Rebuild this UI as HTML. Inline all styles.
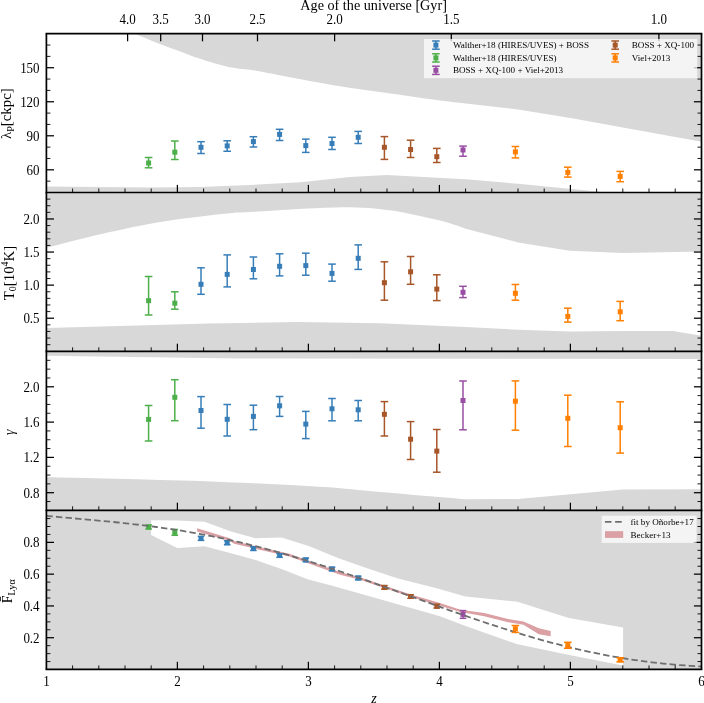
<!DOCTYPE html><html><head><meta charset="utf-8"><style>html,body{margin:0;padding:0;background:#fff;}svg{display:block;will-change:transform;}</style></head><body><svg width="704" height="703" viewBox="0 0 704 703" font-family='"Liberation Serif", serif' fill="#000" stroke-linecap="butt">
<polygon points="134.80,33.70 134.80,33.70 136.64,34.47 139.09,35.51 142.02,36.75 145.27,38.11 148.68,39.54 152.11,40.96 155.40,42.30 158.40,43.50 161.17,44.57 163.89,45.59 166.56,46.57 169.19,47.52 171.81,48.46 174.43,49.40 177.05,50.34 179.70,51.30 182.31,52.27 184.84,53.24 187.35,54.21 189.87,55.18 192.45,56.15 195.13,57.13 197.97,58.11 201.00,59.10 204.28,60.13 207.80,61.21 211.49,62.32 215.27,63.43 219.08,64.49 222.85,65.50 226.51,66.41 230.00,67.20 233.23,67.82 236.24,68.29 239.12,68.66 241.97,68.96 244.89,69.26 247.96,69.60 251.30,70.03 255.00,70.60 259.02,71.30 263.26,72.08 267.71,72.93 272.34,73.82 277.16,74.77 282.13,75.73 287.25,76.72 292.50,77.70 297.94,78.71 303.61,79.78 309.47,80.88 315.47,82.00 321.56,83.12 327.71,84.22 333.87,85.29 340.00,86.30 346.13,87.26 352.32,88.18 358.57,89.07 364.84,89.94 371.14,90.80 377.44,91.66 383.73,92.52 390.00,93.40 396.42,94.32 403.07,95.27 409.82,96.24 416.53,97.21 423.04,98.14 429.22,99.01 434.92,99.81 440.00,100.50 444.54,101.09 448.72,101.61 452.51,102.06 455.93,102.44 458.95,102.77 461.57,103.06 463.79,103.30 465.60,103.50 518.00,109.50 570.50,118.10 622.90,127.50 701.50,141.70 701.50,33.70" fill="#d8d8d8" />
<polygon points="46.40,186.40 151.00,187.60 200.00,187.00 250.00,185.00 300.00,182.20 350.00,177.00 387.00,175.00 465.60,179.20 518.00,183.80 622.90,194.00 622.90,192.50 46.40,192.50" fill="#d8d8d8" />
<polygon points="46.40,192.50 46.40,247.80 50.68,246.71 56.33,245.24 63.05,243.49 70.54,241.56 78.53,239.52 86.71,237.48 94.80,235.53 102.50,233.75 110.01,232.08 117.68,230.41 125.47,228.74 133.35,227.11 141.28,225.53 149.22,224.01 157.14,222.58 165.00,221.25 173.09,220.00 181.56,218.81 190.20,217.68 198.75,216.63 206.99,215.67 214.69,214.80 221.60,214.04 227.50,213.40 231.80,212.94 234.48,212.67 236.14,212.54 237.37,212.50 238.77,212.48 240.95,212.42 244.49,212.28 250.00,212.00 257.82,211.53 267.54,210.91 278.59,210.20 290.43,209.46 302.50,208.75 314.26,208.13 325.14,207.66 334.60,207.40 342.69,207.32 349.95,207.33 356.58,207.46 362.78,207.69 368.72,208.05 374.61,208.53 380.64,209.15 387.00,209.90 393.78,210.86 400.85,212.06 408.04,213.43 415.18,214.90 422.11,216.42 428.66,217.92 434.68,219.33 440.00,220.60 444.69,221.79 448.93,223.00 452.73,224.18 456.11,225.32 459.08,226.37 461.64,227.31 463.81,228.09 465.60,228.70 518.20,242.50 569.70,250.80 622.90,253.10 701.50,251.50 701.50,192.50" fill="#d8d8d8" />
<polygon points="46.40,327.90 209.00,323.50 296.00,322.00 380.00,323.30 465.60,327.00 518.00,329.70 570.50,331.60 622.90,331.10 673.00,331.10 701.50,335.70 701.50,351.30 46.40,351.30" fill="#d8d8d8" />
<polygon points="46.40,351.30 46.40,355.80 240.00,358.60 701.50,359.00 701.50,351.30" fill="#d8d8d8" />
<polygon points="46.40,477.10 58.48,477.40 74.80,477.78 94.26,478.24 115.74,478.75 138.16,479.31 160.41,479.89 181.39,480.50 200.00,481.10 216.95,481.73 233.61,482.39 249.82,483.10 265.46,483.82 280.36,484.55 294.40,485.28 307.43,486.00 319.30,486.70 329.52,487.36 338.01,488.00 345.26,488.63 351.76,489.25 357.99,489.89 364.45,490.55 371.62,491.25 380.00,492.00 390.09,492.86 401.66,493.84 414.04,494.88 426.59,495.93 438.68,496.94 449.64,497.86 458.83,498.63 465.60,499.20 518.00,499.00 622.80,489.50 701.50,489.20 701.50,510.30 46.40,510.30" fill="#d8d8d8" />
<rect x="46.4" y="510.3" width="655.1" height="159.1" fill="#d8d8d8"/>
<polygon points="151.10,520.30 177.40,520.40 204.50,521.80 231.00,531.50 255.50,538.30 281.50,537.40 308.60,546.00 338.60,558.30 365.60,567.80 398.00,578.60 435.70,588.00 465.40,596.60 517.50,601.80 568.80,618.00 623.10,627.40 623.10,665.40 570.50,655.20 517.60,644.30 465.60,626.00 440.00,616.20 380.00,599.20 330.50,585.30 308.40,579.40 281.50,569.00 255.50,560.00 231.00,553.20 204.50,546.25 177.30,548.00 151.10,534.90" fill="#ffffff" />
<polygon points="197.10,528.20 229.80,538.20 234.00,541.10 289.40,553.80 340.00,571.90 360.00,577.20 410.00,594.20 440.00,603.10 460.40,609.70 484.30,612.90 508.10,618.90 523.50,621.40 538.80,628.20 550.70,631.10 550.70,636.20 538.80,634.20 523.50,624.80 508.10,622.30 484.30,616.30 460.40,612.00 440.00,605.80 410.00,596.80 360.00,579.80 340.00,574.70 289.40,556.50 234.00,543.80 229.80,541.10 197.10,531.40" fill="#daa0a3" />
<g stroke="#4daf4a" stroke-width="1.50" fill="none"><line x1="148.60" y1="157.50" x2="148.60" y2="167.80"/><line x1="144.80" y1="157.50" x2="152.40" y2="157.50"/><line x1="144.80" y1="167.80" x2="152.40" y2="167.80"/></g><rect x="146.10" y="160.50" width="5.00" height="5.00" fill="#4daf4a"/>
<g stroke="#4daf4a" stroke-width="1.50" fill="none"><line x1="174.80" y1="141.00" x2="174.80" y2="159.50"/><line x1="171.00" y1="141.00" x2="178.60" y2="141.00"/><line x1="171.00" y1="159.50" x2="178.60" y2="159.50"/></g><rect x="172.30" y="149.70" width="5.00" height="5.00" fill="#4daf4a"/>
<g stroke="#377eb8" stroke-width="1.50" fill="none"><line x1="201.00" y1="141.70" x2="201.00" y2="153.50"/><line x1="197.20" y1="141.70" x2="204.80" y2="141.70"/><line x1="197.20" y1="153.50" x2="204.80" y2="153.50"/></g><rect x="198.50" y="144.80" width="5.00" height="5.00" fill="#377eb8"/>
<g stroke="#377eb8" stroke-width="1.50" fill="none"><line x1="227.20" y1="140.80" x2="227.20" y2="151.25"/><line x1="223.40" y1="140.80" x2="231.00" y2="140.80"/><line x1="223.40" y1="151.25" x2="231.00" y2="151.25"/></g><rect x="224.70" y="143.40" width="5.00" height="5.00" fill="#377eb8"/>
<g stroke="#377eb8" stroke-width="1.50" fill="none"><line x1="253.40" y1="136.70" x2="253.40" y2="147.00"/><line x1="249.60" y1="136.70" x2="257.20" y2="136.70"/><line x1="249.60" y1="147.00" x2="257.20" y2="147.00"/></g><rect x="250.90" y="139.10" width="5.00" height="5.00" fill="#377eb8"/>
<g stroke="#377eb8" stroke-width="1.50" fill="none"><line x1="279.60" y1="129.30" x2="279.60" y2="140.50"/><line x1="275.80" y1="129.30" x2="283.40" y2="129.30"/><line x1="275.80" y1="140.50" x2="283.40" y2="140.50"/></g><rect x="277.10" y="131.90" width="5.00" height="5.00" fill="#377eb8"/>
<g stroke="#377eb8" stroke-width="1.50" fill="none"><line x1="305.80" y1="139.10" x2="305.80" y2="152.40"/><line x1="302.00" y1="139.10" x2="309.60" y2="139.10"/><line x1="302.00" y1="152.40" x2="309.60" y2="152.40"/></g><rect x="303.30" y="143.10" width="5.00" height="5.00" fill="#377eb8"/>
<g stroke="#377eb8" stroke-width="1.50" fill="none"><line x1="332.00" y1="137.30" x2="332.00" y2="149.50"/><line x1="328.20" y1="137.30" x2="335.80" y2="137.30"/><line x1="328.20" y1="149.50" x2="335.80" y2="149.50"/></g><rect x="329.50" y="141.00" width="5.00" height="5.00" fill="#377eb8"/>
<g stroke="#377eb8" stroke-width="1.50" fill="none"><line x1="358.20" y1="131.40" x2="358.20" y2="143.50"/><line x1="354.40" y1="131.40" x2="362.00" y2="131.40"/><line x1="354.40" y1="143.50" x2="362.00" y2="143.50"/></g><rect x="355.70" y="134.80" width="5.00" height="5.00" fill="#377eb8"/>
<g stroke="#a65628" stroke-width="1.50" fill="none"><line x1="384.40" y1="136.60" x2="384.40" y2="159.40"/><line x1="380.60" y1="136.60" x2="388.20" y2="136.60"/><line x1="380.60" y1="159.40" x2="388.20" y2="159.40"/></g><rect x="381.90" y="144.80" width="5.00" height="5.00" fill="#a65628"/>
<g stroke="#a65628" stroke-width="1.50" fill="none"><line x1="410.60" y1="140.20" x2="410.60" y2="157.50"/><line x1="406.80" y1="140.20" x2="414.40" y2="140.20"/><line x1="406.80" y1="157.50" x2="414.40" y2="157.50"/></g><rect x="408.10" y="147.00" width="5.00" height="5.00" fill="#a65628"/>
<g stroke="#a65628" stroke-width="1.50" fill="none"><line x1="436.80" y1="148.40" x2="436.80" y2="162.50"/><line x1="433.00" y1="148.40" x2="440.60" y2="148.40"/><line x1="433.00" y1="162.50" x2="440.60" y2="162.50"/></g><rect x="434.30" y="154.20" width="5.00" height="5.00" fill="#a65628"/>
<g stroke="#984ea3" stroke-width="1.50" fill="none"><line x1="463.00" y1="146.10" x2="463.00" y2="156.25"/><line x1="459.20" y1="146.10" x2="466.80" y2="146.10"/><line x1="459.20" y1="156.25" x2="466.80" y2="156.25"/></g><rect x="460.50" y="147.50" width="5.00" height="5.00" fill="#984ea3"/>
<g stroke="#ff7f00" stroke-width="1.50" fill="none"><line x1="515.40" y1="146.50" x2="515.40" y2="157.90"/><line x1="511.60" y1="146.50" x2="519.20" y2="146.50"/><line x1="511.60" y1="157.90" x2="519.20" y2="157.90"/></g><rect x="512.90" y="149.40" width="5.00" height="5.00" fill="#ff7f00"/>
<g stroke="#ff7f00" stroke-width="1.50" fill="none"><line x1="567.80" y1="167.20" x2="567.80" y2="177.10"/><line x1="564.00" y1="167.20" x2="571.60" y2="167.20"/><line x1="564.00" y1="177.10" x2="571.60" y2="177.10"/></g><rect x="565.30" y="169.90" width="5.00" height="5.00" fill="#ff7f00"/>
<g stroke="#ff7f00" stroke-width="1.50" fill="none"><line x1="620.20" y1="171.40" x2="620.20" y2="181.70"/><line x1="616.40" y1="171.40" x2="624.00" y2="171.40"/><line x1="616.40" y1="181.70" x2="624.00" y2="181.70"/></g><rect x="617.70" y="173.90" width="5.00" height="5.00" fill="#ff7f00"/>
<g stroke="#4daf4a" stroke-width="1.50" fill="none"><line x1="148.60" y1="276.50" x2="148.60" y2="315.00"/><line x1="144.80" y1="276.50" x2="152.40" y2="276.50"/><line x1="144.80" y1="315.00" x2="152.40" y2="315.00"/></g><rect x="146.10" y="298.15" width="5.00" height="5.00" fill="#4daf4a"/>
<g stroke="#4daf4a" stroke-width="1.50" fill="none"><line x1="174.80" y1="291.80" x2="174.80" y2="309.20"/><line x1="171.00" y1="291.80" x2="178.60" y2="291.80"/><line x1="171.00" y1="309.20" x2="178.60" y2="309.20"/></g><rect x="172.30" y="300.70" width="5.00" height="5.00" fill="#4daf4a"/>
<g stroke="#377eb8" stroke-width="1.50" fill="none"><line x1="201.00" y1="267.80" x2="201.00" y2="294.30"/><line x1="197.20" y1="267.80" x2="204.80" y2="267.80"/><line x1="197.20" y1="294.30" x2="204.80" y2="294.30"/></g><rect x="198.50" y="281.80" width="5.00" height="5.00" fill="#377eb8"/>
<g stroke="#377eb8" stroke-width="1.50" fill="none"><line x1="227.20" y1="254.90" x2="227.20" y2="286.90"/><line x1="223.40" y1="254.90" x2="231.00" y2="254.90"/><line x1="223.40" y1="286.90" x2="231.00" y2="286.90"/></g><rect x="224.70" y="271.90" width="5.00" height="5.00" fill="#377eb8"/>
<g stroke="#377eb8" stroke-width="1.50" fill="none"><line x1="253.40" y1="257.00" x2="253.40" y2="278.80"/><line x1="249.60" y1="257.00" x2="257.20" y2="257.00"/><line x1="249.60" y1="278.80" x2="257.20" y2="278.80"/></g><rect x="250.90" y="267.00" width="5.00" height="5.00" fill="#377eb8"/>
<g stroke="#377eb8" stroke-width="1.50" fill="none"><line x1="279.60" y1="253.80" x2="279.60" y2="275.90"/><line x1="275.80" y1="253.80" x2="283.40" y2="253.80"/><line x1="275.80" y1="275.90" x2="283.40" y2="275.90"/></g><rect x="277.10" y="263.80" width="5.00" height="5.00" fill="#377eb8"/>
<g stroke="#377eb8" stroke-width="1.50" fill="none"><line x1="305.80" y1="253.20" x2="305.80" y2="275.20"/><line x1="302.00" y1="253.20" x2="309.60" y2="253.20"/><line x1="302.00" y1="275.20" x2="309.60" y2="275.20"/></g><rect x="303.30" y="263.10" width="5.00" height="5.00" fill="#377eb8"/>
<g stroke="#377eb8" stroke-width="1.50" fill="none"><line x1="332.00" y1="264.10" x2="332.00" y2="281.20"/><line x1="328.20" y1="264.10" x2="335.80" y2="264.10"/><line x1="328.20" y1="281.20" x2="335.80" y2="281.20"/></g><rect x="329.50" y="270.90" width="5.00" height="5.00" fill="#377eb8"/>
<g stroke="#377eb8" stroke-width="1.50" fill="none"><line x1="358.20" y1="244.90" x2="358.20" y2="269.40"/><line x1="354.40" y1="244.90" x2="362.00" y2="244.90"/><line x1="354.40" y1="269.40" x2="362.00" y2="269.40"/></g><rect x="355.70" y="255.80" width="5.00" height="5.00" fill="#377eb8"/>
<g stroke="#a65628" stroke-width="1.50" fill="none"><line x1="384.40" y1="261.80" x2="384.40" y2="300.20"/><line x1="380.60" y1="261.80" x2="388.20" y2="261.80"/><line x1="380.60" y1="300.20" x2="388.20" y2="300.20"/></g><rect x="381.90" y="280.20" width="5.00" height="5.00" fill="#a65628"/>
<g stroke="#a65628" stroke-width="1.50" fill="none"><line x1="410.60" y1="256.50" x2="410.60" y2="284.30"/><line x1="406.80" y1="256.50" x2="414.40" y2="256.50"/><line x1="406.80" y1="284.30" x2="414.40" y2="284.30"/></g><rect x="408.10" y="269.30" width="5.00" height="5.00" fill="#a65628"/>
<g stroke="#a65628" stroke-width="1.50" fill="none"><line x1="436.80" y1="274.80" x2="436.80" y2="300.60"/><line x1="433.00" y1="274.80" x2="440.60" y2="274.80"/><line x1="433.00" y1="300.60" x2="440.60" y2="300.60"/></g><rect x="434.30" y="286.60" width="5.00" height="5.00" fill="#a65628"/>
<g stroke="#984ea3" stroke-width="1.50" fill="none"><line x1="463.00" y1="286.30" x2="463.00" y2="297.60"/><line x1="459.20" y1="286.30" x2="466.80" y2="286.30"/><line x1="459.20" y1="297.60" x2="466.80" y2="297.60"/></g><rect x="460.50" y="289.80" width="5.00" height="5.00" fill="#984ea3"/>
<g stroke="#ff7f00" stroke-width="1.50" fill="none"><line x1="515.40" y1="284.50" x2="515.40" y2="300.20"/><line x1="511.60" y1="284.50" x2="519.20" y2="284.50"/><line x1="511.60" y1="300.20" x2="519.20" y2="300.20"/></g><rect x="512.90" y="290.80" width="5.00" height="5.00" fill="#ff7f00"/>
<g stroke="#ff7f00" stroke-width="1.50" fill="none"><line x1="567.80" y1="308.20" x2="567.80" y2="322.10"/><line x1="564.00" y1="308.20" x2="571.60" y2="308.20"/><line x1="564.00" y1="322.10" x2="571.60" y2="322.10"/></g><rect x="565.30" y="313.90" width="5.00" height="5.00" fill="#ff7f00"/>
<g stroke="#ff7f00" stroke-width="1.50" fill="none"><line x1="620.20" y1="301.40" x2="620.20" y2="320.70"/><line x1="616.40" y1="301.40" x2="624.00" y2="301.40"/><line x1="616.40" y1="320.70" x2="624.00" y2="320.70"/></g><rect x="617.70" y="309.30" width="5.00" height="5.00" fill="#ff7f00"/>
<g stroke="#4daf4a" stroke-width="1.50" fill="none"><line x1="148.60" y1="405.50" x2="148.60" y2="441.00"/><line x1="144.80" y1="405.50" x2="152.40" y2="405.50"/><line x1="144.80" y1="441.00" x2="152.40" y2="441.00"/></g><rect x="146.10" y="416.90" width="5.00" height="5.00" fill="#4daf4a"/>
<g stroke="#4daf4a" stroke-width="1.50" fill="none"><line x1="174.80" y1="379.70" x2="174.80" y2="420.70"/><line x1="171.00" y1="379.70" x2="178.60" y2="379.70"/><line x1="171.00" y1="420.70" x2="178.60" y2="420.70"/></g><rect x="172.30" y="394.80" width="5.00" height="5.00" fill="#4daf4a"/>
<g stroke="#377eb8" stroke-width="1.50" fill="none"><line x1="201.00" y1="396.60" x2="201.00" y2="428.20"/><line x1="197.20" y1="396.60" x2="204.80" y2="396.60"/><line x1="197.20" y1="428.20" x2="204.80" y2="428.20"/></g><rect x="198.50" y="408.00" width="5.00" height="5.00" fill="#377eb8"/>
<g stroke="#377eb8" stroke-width="1.50" fill="none"><line x1="227.20" y1="404.50" x2="227.20" y2="436.00"/><line x1="223.40" y1="404.50" x2="231.00" y2="404.50"/><line x1="223.40" y1="436.00" x2="231.00" y2="436.00"/></g><rect x="224.70" y="416.80" width="5.00" height="5.00" fill="#377eb8"/>
<g stroke="#377eb8" stroke-width="1.50" fill="none"><line x1="253.40" y1="405.20" x2="253.40" y2="429.70"/><line x1="249.60" y1="405.20" x2="257.20" y2="405.20"/><line x1="249.60" y1="429.70" x2="257.20" y2="429.70"/></g><rect x="250.90" y="413.90" width="5.00" height="5.00" fill="#377eb8"/>
<g stroke="#377eb8" stroke-width="1.50" fill="none"><line x1="279.60" y1="396.50" x2="279.60" y2="416.40"/><line x1="275.80" y1="396.50" x2="283.40" y2="396.50"/><line x1="275.80" y1="416.40" x2="283.40" y2="416.40"/></g><rect x="277.10" y="403.30" width="5.00" height="5.00" fill="#377eb8"/>
<g stroke="#377eb8" stroke-width="1.50" fill="none"><line x1="305.80" y1="411.40" x2="305.80" y2="438.60"/><line x1="302.00" y1="411.40" x2="309.60" y2="411.40"/><line x1="302.00" y1="438.60" x2="309.60" y2="438.60"/></g><rect x="303.30" y="421.60" width="5.00" height="5.00" fill="#377eb8"/>
<g stroke="#377eb8" stroke-width="1.50" fill="none"><line x1="332.00" y1="398.50" x2="332.00" y2="420.80"/><line x1="328.20" y1="398.50" x2="335.80" y2="398.50"/><line x1="328.20" y1="420.80" x2="335.80" y2="420.80"/></g><rect x="329.50" y="406.30" width="5.00" height="5.00" fill="#377eb8"/>
<g stroke="#377eb8" stroke-width="1.50" fill="none"><line x1="358.20" y1="400.50" x2="358.20" y2="420.80"/><line x1="354.40" y1="400.50" x2="362.00" y2="400.50"/><line x1="354.40" y1="420.80" x2="362.00" y2="420.80"/></g><rect x="355.70" y="407.30" width="5.00" height="5.00" fill="#377eb8"/>
<g stroke="#a65628" stroke-width="1.50" fill="none"><line x1="384.40" y1="401.60" x2="384.40" y2="436.00"/><line x1="380.60" y1="401.60" x2="388.20" y2="401.60"/><line x1="380.60" y1="436.00" x2="388.20" y2="436.00"/></g><rect x="381.90" y="411.80" width="5.00" height="5.00" fill="#a65628"/>
<g stroke="#a65628" stroke-width="1.50" fill="none"><line x1="410.60" y1="421.60" x2="410.60" y2="459.50"/><line x1="406.80" y1="421.60" x2="414.40" y2="421.60"/><line x1="406.80" y1="459.50" x2="414.40" y2="459.50"/></g><rect x="408.10" y="436.70" width="5.00" height="5.00" fill="#a65628"/>
<g stroke="#a65628" stroke-width="1.50" fill="none"><line x1="436.80" y1="429.50" x2="436.80" y2="472.20"/><line x1="433.00" y1="429.50" x2="440.60" y2="429.50"/><line x1="433.00" y1="472.20" x2="440.60" y2="472.20"/></g><rect x="434.30" y="448.60" width="5.00" height="5.00" fill="#a65628"/>
<g stroke="#984ea3" stroke-width="1.50" fill="none"><line x1="463.00" y1="381.00" x2="463.00" y2="429.80"/><line x1="459.20" y1="381.00" x2="466.80" y2="381.00"/><line x1="459.20" y1="429.80" x2="466.80" y2="429.80"/></g><rect x="460.50" y="398.00" width="5.00" height="5.00" fill="#984ea3"/>
<g stroke="#ff7f00" stroke-width="1.50" fill="none"><line x1="515.40" y1="380.90" x2="515.40" y2="430.20"/><line x1="511.60" y1="380.90" x2="519.20" y2="380.90"/><line x1="511.60" y1="430.20" x2="519.20" y2="430.20"/></g><rect x="512.90" y="398.70" width="5.00" height="5.00" fill="#ff7f00"/>
<g stroke="#ff7f00" stroke-width="1.50" fill="none"><line x1="567.80" y1="395.20" x2="567.80" y2="446.50"/><line x1="564.00" y1="395.20" x2="571.60" y2="395.20"/><line x1="564.00" y1="446.50" x2="571.60" y2="446.50"/></g><rect x="565.30" y="415.80" width="5.00" height="5.00" fill="#ff7f00"/>
<g stroke="#ff7f00" stroke-width="1.50" fill="none"><line x1="620.20" y1="401.80" x2="620.20" y2="453.10"/><line x1="616.40" y1="401.80" x2="624.00" y2="401.80"/><line x1="616.40" y1="453.10" x2="624.00" y2="453.10"/></g><rect x="617.70" y="425.20" width="5.00" height="5.00" fill="#ff7f00"/>
<g stroke="#4daf4a" stroke-width="1.50" fill="none"><line x1="148.60" y1="525.00" x2="148.60" y2="529.00"/><line x1="145.30" y1="525.00" x2="151.90" y2="525.00"/><line x1="145.30" y1="529.00" x2="151.90" y2="529.00"/></g><rect x="146.10" y="524.50" width="5.00" height="5.00" fill="#4daf4a"/>
<g stroke="#4daf4a" stroke-width="1.50" fill="none"><line x1="174.80" y1="529.50" x2="174.80" y2="535.30"/><line x1="171.50" y1="529.50" x2="178.10" y2="529.50"/><line x1="171.50" y1="535.30" x2="178.10" y2="535.30"/></g><rect x="172.30" y="529.90" width="5.00" height="5.00" fill="#4daf4a"/>
<g stroke="#377eb8" stroke-width="1.50" fill="none"><line x1="201.00" y1="536.40" x2="201.00" y2="540.40"/><line x1="197.70" y1="536.40" x2="204.30" y2="536.40"/><line x1="197.70" y1="540.40" x2="204.30" y2="540.40"/></g><rect x="198.50" y="535.90" width="5.00" height="5.00" fill="#377eb8"/>
<g stroke="#377eb8" stroke-width="1.50" fill="none"><line x1="227.20" y1="540.70" x2="227.20" y2="544.70"/><line x1="223.90" y1="540.70" x2="230.50" y2="540.70"/><line x1="223.90" y1="544.70" x2="230.50" y2="544.70"/></g><rect x="224.70" y="540.20" width="5.00" height="5.00" fill="#377eb8"/>
<g stroke="#377eb8" stroke-width="1.50" fill="none"><line x1="253.40" y1="546.80" x2="253.40" y2="550.40"/><line x1="250.10" y1="546.80" x2="256.70" y2="546.80"/><line x1="250.10" y1="550.40" x2="256.70" y2="550.40"/></g><rect x="250.90" y="546.10" width="5.00" height="5.00" fill="#377eb8"/>
<g stroke="#377eb8" stroke-width="1.50" fill="none"><line x1="279.60" y1="553.70" x2="279.60" y2="557.30"/><line x1="276.30" y1="553.70" x2="282.90" y2="553.70"/><line x1="276.30" y1="557.30" x2="282.90" y2="557.30"/></g><rect x="277.10" y="553.00" width="5.00" height="5.00" fill="#377eb8"/>
<g stroke="#377eb8" stroke-width="1.50" fill="none"><line x1="305.80" y1="558.10" x2="305.80" y2="561.70"/><line x1="302.50" y1="558.10" x2="309.10" y2="558.10"/><line x1="302.50" y1="561.70" x2="309.10" y2="561.70"/></g><rect x="303.30" y="557.40" width="5.00" height="5.00" fill="#377eb8"/>
<g stroke="#377eb8" stroke-width="1.50" fill="none"><line x1="332.00" y1="567.20" x2="332.00" y2="570.80"/><line x1="328.70" y1="567.20" x2="335.30" y2="567.20"/><line x1="328.70" y1="570.80" x2="335.30" y2="570.80"/></g><rect x="329.50" y="566.50" width="5.00" height="5.00" fill="#377eb8"/>
<g stroke="#377eb8" stroke-width="1.50" fill="none"><line x1="358.20" y1="576.20" x2="358.20" y2="579.80"/><line x1="354.90" y1="576.20" x2="361.50" y2="576.20"/><line x1="354.90" y1="579.80" x2="361.50" y2="579.80"/></g><rect x="355.70" y="575.50" width="5.00" height="5.00" fill="#377eb8"/>
<g stroke="#a65628" stroke-width="1.50" fill="none"><line x1="384.40" y1="585.60" x2="384.40" y2="589.20"/><line x1="381.10" y1="585.60" x2="387.70" y2="585.60"/><line x1="381.10" y1="589.20" x2="387.70" y2="589.20"/></g><rect x="381.90" y="584.90" width="5.00" height="5.00" fill="#a65628"/>
<g stroke="#a65628" stroke-width="1.50" fill="none"><line x1="410.60" y1="594.70" x2="410.60" y2="598.30"/><line x1="407.30" y1="594.70" x2="413.90" y2="594.70"/><line x1="407.30" y1="598.30" x2="413.90" y2="598.30"/></g><rect x="408.10" y="594.00" width="5.00" height="5.00" fill="#a65628"/>
<g stroke="#a65628" stroke-width="1.50" fill="none"><line x1="436.80" y1="604.40" x2="436.80" y2="608.00"/><line x1="433.50" y1="604.40" x2="440.10" y2="604.40"/><line x1="433.50" y1="608.00" x2="440.10" y2="608.00"/></g><rect x="434.30" y="603.70" width="5.00" height="5.00" fill="#a65628"/>
<g stroke="#984ea3" stroke-width="1.50" fill="none"><line x1="463.00" y1="610.60" x2="463.00" y2="618.30"/><line x1="459.70" y1="610.60" x2="466.30" y2="610.60"/><line x1="459.70" y1="618.30" x2="466.30" y2="618.30"/></g><rect x="460.50" y="611.90" width="5.00" height="5.00" fill="#984ea3"/>
<polyline points="46.40,515.82 51.91,516.36 57.41,516.88 62.92,517.39 68.42,517.89 73.93,518.38 79.43,518.87 84.94,519.36 90.44,519.85 95.95,520.36 101.45,520.87 106.96,521.39 112.46,521.93 117.97,522.48 123.47,523.06 128.98,523.65 134.48,524.27 139.99,524.91 145.49,525.58 151.00,526.28 156.50,527.01 162.01,527.77 167.51,528.56 173.02,529.39 178.52,530.25 184.03,531.14 189.53,532.07 195.04,533.04 200.54,534.04 206.05,535.08 211.55,536.16 217.06,537.28 222.56,538.43 228.07,539.63 233.57,540.86 239.08,542.13 244.58,543.43 250.09,544.77 255.59,546.15 261.10,547.57 266.60,549.02 272.11,550.51 277.61,552.03 283.12,553.58 288.62,555.17 294.13,556.79 299.63,558.44 305.14,560.12 310.64,561.83 316.15,563.56 321.65,565.33 327.16,567.11 332.66,568.92 338.17,570.76 343.67,572.61 349.18,574.49 354.68,576.38 360.19,578.29 365.69,580.21 371.20,582.15 376.70,584.10 382.21,586.06 387.71,588.03 393.22,590.01 398.72,591.99 404.23,593.98 409.73,595.97 415.24,597.96 420.74,599.94 426.25,601.93 431.75,603.91 437.26,605.89 442.76,607.85 448.27,609.81 453.77,611.76 459.28,613.69 464.78,615.61 470.29,617.51 475.79,619.39 481.30,621.26 486.80,623.10 492.31,624.92 497.81,626.71 503.32,628.49 508.82,630.23 514.33,631.94 519.83,633.63 525.34,635.28 530.84,636.90 536.35,638.49 541.85,640.04 547.36,641.55 552.86,643.03 558.37,644.47 563.87,645.87 569.38,647.22 574.88,648.54 580.39,649.82 585.89,651.05 591.40,652.24 596.90,653.38 602.41,654.48 607.91,655.53 613.42,656.54 618.92,657.50 624.43,658.42 629.93,659.29 635.44,660.11 640.94,660.89 646.45,661.62 651.95,662.30 657.46,662.94 662.96,663.53 668.47,664.08 673.97,664.59 679.48,665.05 684.98,665.47 690.49,665.85 695.99,666.19 701.50,666.49" fill="none" stroke="#6e6e6e" stroke-width="1.8" stroke-dasharray="6.4 3.2"/>
<g stroke="#ff7f00" stroke-width="1.50" fill="none"><line x1="515.40" y1="625.50" x2="515.40" y2="632.40"/><line x1="511.60" y1="625.50" x2="519.20" y2="625.50"/><line x1="511.60" y1="632.40" x2="519.20" y2="632.40"/></g><rect x="512.90" y="626.30" width="5.00" height="5.00" fill="#ff7f00"/>
<g stroke="#ff7f00" stroke-width="1.50" fill="none"><line x1="567.80" y1="642.30" x2="567.80" y2="648.30"/><line x1="564.00" y1="642.30" x2="571.60" y2="642.30"/><line x1="564.00" y1="648.30" x2="571.60" y2="648.30"/></g><rect x="565.30" y="643.10" width="5.00" height="5.00" fill="#ff7f00"/>
<g stroke="#ff7f00" stroke-width="1.50" fill="none"><line x1="620.20" y1="657.70" x2="620.20" y2="661.80"/><line x1="616.40" y1="657.70" x2="624.00" y2="657.70"/><line x1="616.40" y1="661.80" x2="624.00" y2="661.80"/></g><rect x="617.70" y="657.40" width="5.00" height="5.00" fill="#ff7f00"/>
<line x1="46.40" y1="169.81" x2="54.00" y2="169.81" stroke="#000" stroke-width="1.25"/>
<line x1="693.90" y1="169.81" x2="701.50" y2="169.81" stroke="#000" stroke-width="1.25"/>
<line x1="46.40" y1="135.79" x2="54.00" y2="135.79" stroke="#000" stroke-width="1.25"/>
<line x1="693.90" y1="135.79" x2="701.50" y2="135.79" stroke="#000" stroke-width="1.25"/>
<line x1="46.40" y1="101.76" x2="54.00" y2="101.76" stroke="#000" stroke-width="1.25"/>
<line x1="693.90" y1="101.76" x2="701.50" y2="101.76" stroke="#000" stroke-width="1.25"/>
<line x1="46.40" y1="67.73" x2="54.00" y2="67.73" stroke="#000" stroke-width="1.25"/>
<line x1="693.90" y1="67.73" x2="701.50" y2="67.73" stroke="#000" stroke-width="1.25"/>
<line x1="46.40" y1="181.16" x2="50.40" y2="181.16" stroke="#000" stroke-width="0.90"/>
<line x1="697.50" y1="181.16" x2="701.50" y2="181.16" stroke="#000" stroke-width="0.90"/>
<line x1="46.40" y1="158.47" x2="50.40" y2="158.47" stroke="#000" stroke-width="0.90"/>
<line x1="697.50" y1="158.47" x2="701.50" y2="158.47" stroke="#000" stroke-width="0.90"/>
<line x1="46.40" y1="147.13" x2="50.40" y2="147.13" stroke="#000" stroke-width="0.90"/>
<line x1="697.50" y1="147.13" x2="701.50" y2="147.13" stroke="#000" stroke-width="0.90"/>
<line x1="46.40" y1="124.44" x2="50.40" y2="124.44" stroke="#000" stroke-width="0.90"/>
<line x1="697.50" y1="124.44" x2="701.50" y2="124.44" stroke="#000" stroke-width="0.90"/>
<line x1="46.40" y1="113.10" x2="50.40" y2="113.10" stroke="#000" stroke-width="0.90"/>
<line x1="697.50" y1="113.10" x2="701.50" y2="113.10" stroke="#000" stroke-width="0.90"/>
<line x1="46.40" y1="90.41" x2="50.40" y2="90.41" stroke="#000" stroke-width="0.90"/>
<line x1="697.50" y1="90.41" x2="701.50" y2="90.41" stroke="#000" stroke-width="0.90"/>
<line x1="46.40" y1="79.07" x2="50.40" y2="79.07" stroke="#000" stroke-width="0.90"/>
<line x1="697.50" y1="79.07" x2="701.50" y2="79.07" stroke="#000" stroke-width="0.90"/>
<line x1="46.40" y1="56.39" x2="50.40" y2="56.39" stroke="#000" stroke-width="0.90"/>
<line x1="697.50" y1="56.39" x2="701.50" y2="56.39" stroke="#000" stroke-width="0.90"/>
<line x1="46.40" y1="45.04" x2="50.40" y2="45.04" stroke="#000" stroke-width="0.90"/>
<line x1="697.50" y1="45.04" x2="701.50" y2="45.04" stroke="#000" stroke-width="0.90"/>
<line x1="46.40" y1="318.22" x2="54.00" y2="318.22" stroke="#000" stroke-width="1.25"/>
<line x1="693.90" y1="318.22" x2="701.50" y2="318.22" stroke="#000" stroke-width="1.25"/>
<line x1="46.40" y1="285.13" x2="54.00" y2="285.13" stroke="#000" stroke-width="1.25"/>
<line x1="693.90" y1="285.13" x2="701.50" y2="285.13" stroke="#000" stroke-width="1.25"/>
<line x1="46.40" y1="252.05" x2="54.00" y2="252.05" stroke="#000" stroke-width="1.25"/>
<line x1="693.90" y1="252.05" x2="701.50" y2="252.05" stroke="#000" stroke-width="1.25"/>
<line x1="46.40" y1="218.97" x2="54.00" y2="218.97" stroke="#000" stroke-width="1.25"/>
<line x1="693.90" y1="218.97" x2="701.50" y2="218.97" stroke="#000" stroke-width="1.25"/>
<line x1="46.40" y1="344.68" x2="50.40" y2="344.68" stroke="#000" stroke-width="0.90"/>
<line x1="697.50" y1="344.68" x2="701.50" y2="344.68" stroke="#000" stroke-width="0.90"/>
<line x1="46.40" y1="338.07" x2="50.40" y2="338.07" stroke="#000" stroke-width="0.90"/>
<line x1="697.50" y1="338.07" x2="701.50" y2="338.07" stroke="#000" stroke-width="0.90"/>
<line x1="46.40" y1="331.45" x2="50.40" y2="331.45" stroke="#000" stroke-width="0.90"/>
<line x1="697.50" y1="331.45" x2="701.50" y2="331.45" stroke="#000" stroke-width="0.90"/>
<line x1="46.40" y1="324.83" x2="50.40" y2="324.83" stroke="#000" stroke-width="0.90"/>
<line x1="697.50" y1="324.83" x2="701.50" y2="324.83" stroke="#000" stroke-width="0.90"/>
<line x1="46.40" y1="311.60" x2="50.40" y2="311.60" stroke="#000" stroke-width="0.90"/>
<line x1="697.50" y1="311.60" x2="701.50" y2="311.60" stroke="#000" stroke-width="0.90"/>
<line x1="46.40" y1="304.98" x2="50.40" y2="304.98" stroke="#000" stroke-width="0.90"/>
<line x1="697.50" y1="304.98" x2="701.50" y2="304.98" stroke="#000" stroke-width="0.90"/>
<line x1="46.40" y1="298.37" x2="50.40" y2="298.37" stroke="#000" stroke-width="0.90"/>
<line x1="697.50" y1="298.37" x2="701.50" y2="298.37" stroke="#000" stroke-width="0.90"/>
<line x1="46.40" y1="291.75" x2="50.40" y2="291.75" stroke="#000" stroke-width="0.90"/>
<line x1="697.50" y1="291.75" x2="701.50" y2="291.75" stroke="#000" stroke-width="0.90"/>
<line x1="46.40" y1="278.52" x2="50.40" y2="278.52" stroke="#000" stroke-width="0.90"/>
<line x1="697.50" y1="278.52" x2="701.50" y2="278.52" stroke="#000" stroke-width="0.90"/>
<line x1="46.40" y1="271.90" x2="50.40" y2="271.90" stroke="#000" stroke-width="0.90"/>
<line x1="697.50" y1="271.90" x2="701.50" y2="271.90" stroke="#000" stroke-width="0.90"/>
<line x1="46.40" y1="265.28" x2="50.40" y2="265.28" stroke="#000" stroke-width="0.90"/>
<line x1="697.50" y1="265.28" x2="701.50" y2="265.28" stroke="#000" stroke-width="0.90"/>
<line x1="46.40" y1="258.67" x2="50.40" y2="258.67" stroke="#000" stroke-width="0.90"/>
<line x1="697.50" y1="258.67" x2="701.50" y2="258.67" stroke="#000" stroke-width="0.90"/>
<line x1="46.40" y1="245.43" x2="50.40" y2="245.43" stroke="#000" stroke-width="0.90"/>
<line x1="697.50" y1="245.43" x2="701.50" y2="245.43" stroke="#000" stroke-width="0.90"/>
<line x1="46.40" y1="238.82" x2="50.40" y2="238.82" stroke="#000" stroke-width="0.90"/>
<line x1="697.50" y1="238.82" x2="701.50" y2="238.82" stroke="#000" stroke-width="0.90"/>
<line x1="46.40" y1="232.20" x2="50.40" y2="232.20" stroke="#000" stroke-width="0.90"/>
<line x1="697.50" y1="232.20" x2="701.50" y2="232.20" stroke="#000" stroke-width="0.90"/>
<line x1="46.40" y1="225.58" x2="50.40" y2="225.58" stroke="#000" stroke-width="0.90"/>
<line x1="697.50" y1="225.58" x2="701.50" y2="225.58" stroke="#000" stroke-width="0.90"/>
<line x1="46.40" y1="212.35" x2="50.40" y2="212.35" stroke="#000" stroke-width="0.90"/>
<line x1="697.50" y1="212.35" x2="701.50" y2="212.35" stroke="#000" stroke-width="0.90"/>
<line x1="46.40" y1="205.73" x2="50.40" y2="205.73" stroke="#000" stroke-width="0.90"/>
<line x1="697.50" y1="205.73" x2="701.50" y2="205.73" stroke="#000" stroke-width="0.90"/>
<line x1="46.40" y1="199.12" x2="50.40" y2="199.12" stroke="#000" stroke-width="0.90"/>
<line x1="697.50" y1="199.12" x2="701.50" y2="199.12" stroke="#000" stroke-width="0.90"/>
<line x1="46.40" y1="492.70" x2="54.00" y2="492.70" stroke="#000" stroke-width="1.25"/>
<line x1="693.90" y1="492.70" x2="701.50" y2="492.70" stroke="#000" stroke-width="1.25"/>
<line x1="46.40" y1="457.40" x2="54.00" y2="457.40" stroke="#000" stroke-width="1.25"/>
<line x1="693.90" y1="457.40" x2="701.50" y2="457.40" stroke="#000" stroke-width="1.25"/>
<line x1="46.40" y1="422.10" x2="54.00" y2="422.10" stroke="#000" stroke-width="1.25"/>
<line x1="693.90" y1="422.10" x2="701.50" y2="422.10" stroke="#000" stroke-width="1.25"/>
<line x1="46.40" y1="386.80" x2="54.00" y2="386.80" stroke="#000" stroke-width="1.25"/>
<line x1="693.90" y1="386.80" x2="701.50" y2="386.80" stroke="#000" stroke-width="1.25"/>
<line x1="46.40" y1="501.52" x2="50.40" y2="501.52" stroke="#000" stroke-width="0.90"/>
<line x1="697.50" y1="501.52" x2="701.50" y2="501.52" stroke="#000" stroke-width="0.90"/>
<line x1="46.40" y1="483.88" x2="50.40" y2="483.88" stroke="#000" stroke-width="0.90"/>
<line x1="697.50" y1="483.88" x2="701.50" y2="483.88" stroke="#000" stroke-width="0.90"/>
<line x1="46.40" y1="475.05" x2="50.40" y2="475.05" stroke="#000" stroke-width="0.90"/>
<line x1="697.50" y1="475.05" x2="701.50" y2="475.05" stroke="#000" stroke-width="0.90"/>
<line x1="46.40" y1="466.22" x2="50.40" y2="466.22" stroke="#000" stroke-width="0.90"/>
<line x1="697.50" y1="466.22" x2="701.50" y2="466.22" stroke="#000" stroke-width="0.90"/>
<line x1="46.40" y1="448.57" x2="50.40" y2="448.57" stroke="#000" stroke-width="0.90"/>
<line x1="697.50" y1="448.57" x2="701.50" y2="448.57" stroke="#000" stroke-width="0.90"/>
<line x1="46.40" y1="439.75" x2="50.40" y2="439.75" stroke="#000" stroke-width="0.90"/>
<line x1="697.50" y1="439.75" x2="701.50" y2="439.75" stroke="#000" stroke-width="0.90"/>
<line x1="46.40" y1="430.93" x2="50.40" y2="430.93" stroke="#000" stroke-width="0.90"/>
<line x1="697.50" y1="430.93" x2="701.50" y2="430.93" stroke="#000" stroke-width="0.90"/>
<line x1="46.40" y1="413.27" x2="50.40" y2="413.27" stroke="#000" stroke-width="0.90"/>
<line x1="697.50" y1="413.27" x2="701.50" y2="413.27" stroke="#000" stroke-width="0.90"/>
<line x1="46.40" y1="404.45" x2="50.40" y2="404.45" stroke="#000" stroke-width="0.90"/>
<line x1="697.50" y1="404.45" x2="701.50" y2="404.45" stroke="#000" stroke-width="0.90"/>
<line x1="46.40" y1="395.62" x2="50.40" y2="395.62" stroke="#000" stroke-width="0.90"/>
<line x1="697.50" y1="395.62" x2="701.50" y2="395.62" stroke="#000" stroke-width="0.90"/>
<line x1="46.40" y1="377.97" x2="50.40" y2="377.97" stroke="#000" stroke-width="0.90"/>
<line x1="697.50" y1="377.97" x2="701.50" y2="377.97" stroke="#000" stroke-width="0.90"/>
<line x1="46.40" y1="369.15" x2="50.40" y2="369.15" stroke="#000" stroke-width="0.90"/>
<line x1="697.50" y1="369.15" x2="701.50" y2="369.15" stroke="#000" stroke-width="0.90"/>
<line x1="46.40" y1="360.32" x2="50.40" y2="360.32" stroke="#000" stroke-width="0.90"/>
<line x1="697.50" y1="360.32" x2="701.50" y2="360.32" stroke="#000" stroke-width="0.90"/>
<line x1="46.40" y1="637.72" x2="54.00" y2="637.72" stroke="#000" stroke-width="1.25"/>
<line x1="693.90" y1="637.72" x2="701.50" y2="637.72" stroke="#000" stroke-width="1.25"/>
<line x1="46.40" y1="605.94" x2="54.00" y2="605.94" stroke="#000" stroke-width="1.25"/>
<line x1="693.90" y1="605.94" x2="701.50" y2="605.94" stroke="#000" stroke-width="1.25"/>
<line x1="46.40" y1="574.16" x2="54.00" y2="574.16" stroke="#000" stroke-width="1.25"/>
<line x1="693.90" y1="574.16" x2="701.50" y2="574.16" stroke="#000" stroke-width="1.25"/>
<line x1="46.40" y1="542.38" x2="54.00" y2="542.38" stroke="#000" stroke-width="1.25"/>
<line x1="693.90" y1="542.38" x2="701.50" y2="542.38" stroke="#000" stroke-width="1.25"/>
<line x1="46.40" y1="661.56" x2="50.40" y2="661.56" stroke="#000" stroke-width="0.90"/>
<line x1="697.50" y1="661.56" x2="701.50" y2="661.56" stroke="#000" stroke-width="0.90"/>
<line x1="46.40" y1="653.61" x2="50.40" y2="653.61" stroke="#000" stroke-width="0.90"/>
<line x1="697.50" y1="653.61" x2="701.50" y2="653.61" stroke="#000" stroke-width="0.90"/>
<line x1="46.40" y1="645.66" x2="50.40" y2="645.66" stroke="#000" stroke-width="0.90"/>
<line x1="697.50" y1="645.66" x2="701.50" y2="645.66" stroke="#000" stroke-width="0.90"/>
<line x1="46.40" y1="629.78" x2="50.40" y2="629.78" stroke="#000" stroke-width="0.90"/>
<line x1="697.50" y1="629.78" x2="701.50" y2="629.78" stroke="#000" stroke-width="0.90"/>
<line x1="46.40" y1="621.83" x2="50.40" y2="621.83" stroke="#000" stroke-width="0.90"/>
<line x1="697.50" y1="621.83" x2="701.50" y2="621.83" stroke="#000" stroke-width="0.90"/>
<line x1="46.40" y1="613.88" x2="50.40" y2="613.88" stroke="#000" stroke-width="0.90"/>
<line x1="697.50" y1="613.88" x2="701.50" y2="613.88" stroke="#000" stroke-width="0.90"/>
<line x1="46.40" y1="598.00" x2="50.40" y2="598.00" stroke="#000" stroke-width="0.90"/>
<line x1="697.50" y1="598.00" x2="701.50" y2="598.00" stroke="#000" stroke-width="0.90"/>
<line x1="46.40" y1="590.05" x2="50.40" y2="590.05" stroke="#000" stroke-width="0.90"/>
<line x1="697.50" y1="590.05" x2="701.50" y2="590.05" stroke="#000" stroke-width="0.90"/>
<line x1="46.40" y1="582.11" x2="50.40" y2="582.11" stroke="#000" stroke-width="0.90"/>
<line x1="697.50" y1="582.11" x2="701.50" y2="582.11" stroke="#000" stroke-width="0.90"/>
<line x1="46.40" y1="566.22" x2="50.40" y2="566.22" stroke="#000" stroke-width="0.90"/>
<line x1="697.50" y1="566.22" x2="701.50" y2="566.22" stroke="#000" stroke-width="0.90"/>
<line x1="46.40" y1="558.27" x2="50.40" y2="558.27" stroke="#000" stroke-width="0.90"/>
<line x1="697.50" y1="558.27" x2="701.50" y2="558.27" stroke="#000" stroke-width="0.90"/>
<line x1="46.40" y1="550.33" x2="50.40" y2="550.33" stroke="#000" stroke-width="0.90"/>
<line x1="697.50" y1="550.33" x2="701.50" y2="550.33" stroke="#000" stroke-width="0.90"/>
<line x1="46.40" y1="534.44" x2="50.40" y2="534.44" stroke="#000" stroke-width="0.90"/>
<line x1="697.50" y1="534.44" x2="701.50" y2="534.44" stroke="#000" stroke-width="0.90"/>
<line x1="46.40" y1="526.49" x2="50.40" y2="526.49" stroke="#000" stroke-width="0.90"/>
<line x1="697.50" y1="526.49" x2="701.50" y2="526.49" stroke="#000" stroke-width="0.90"/>
<line x1="46.40" y1="518.55" x2="50.40" y2="518.55" stroke="#000" stroke-width="0.90"/>
<line x1="697.50" y1="518.55" x2="701.50" y2="518.55" stroke="#000" stroke-width="0.90"/>
<line x1="72.60" y1="188.50" x2="72.60" y2="192.50" stroke="#000" stroke-width="0.90"/>
<line x1="98.80" y1="188.50" x2="98.80" y2="192.50" stroke="#000" stroke-width="0.90"/>
<line x1="125.00" y1="188.50" x2="125.00" y2="192.50" stroke="#000" stroke-width="0.90"/>
<line x1="151.20" y1="188.50" x2="151.20" y2="192.50" stroke="#000" stroke-width="0.90"/>
<line x1="177.40" y1="184.90" x2="177.40" y2="192.50" stroke="#000" stroke-width="1.25"/>
<line x1="203.60" y1="188.50" x2="203.60" y2="192.50" stroke="#000" stroke-width="0.90"/>
<line x1="229.80" y1="188.50" x2="229.80" y2="192.50" stroke="#000" stroke-width="0.90"/>
<line x1="256.00" y1="188.50" x2="256.00" y2="192.50" stroke="#000" stroke-width="0.90"/>
<line x1="282.20" y1="188.50" x2="282.20" y2="192.50" stroke="#000" stroke-width="0.90"/>
<line x1="308.40" y1="184.90" x2="308.40" y2="192.50" stroke="#000" stroke-width="1.25"/>
<line x1="334.60" y1="188.50" x2="334.60" y2="192.50" stroke="#000" stroke-width="0.90"/>
<line x1="360.80" y1="188.50" x2="360.80" y2="192.50" stroke="#000" stroke-width="0.90"/>
<line x1="387.00" y1="188.50" x2="387.00" y2="192.50" stroke="#000" stroke-width="0.90"/>
<line x1="413.20" y1="188.50" x2="413.20" y2="192.50" stroke="#000" stroke-width="0.90"/>
<line x1="439.40" y1="184.90" x2="439.40" y2="192.50" stroke="#000" stroke-width="1.25"/>
<line x1="465.60" y1="188.50" x2="465.60" y2="192.50" stroke="#000" stroke-width="0.90"/>
<line x1="491.80" y1="188.50" x2="491.80" y2="192.50" stroke="#000" stroke-width="0.90"/>
<line x1="518.00" y1="188.50" x2="518.00" y2="192.50" stroke="#000" stroke-width="0.90"/>
<line x1="544.20" y1="188.50" x2="544.20" y2="192.50" stroke="#000" stroke-width="0.90"/>
<line x1="570.40" y1="184.90" x2="570.40" y2="192.50" stroke="#000" stroke-width="1.25"/>
<line x1="596.60" y1="188.50" x2="596.60" y2="192.50" stroke="#000" stroke-width="0.90"/>
<line x1="622.80" y1="188.50" x2="622.80" y2="192.50" stroke="#000" stroke-width="0.90"/>
<line x1="649.00" y1="188.50" x2="649.00" y2="192.50" stroke="#000" stroke-width="0.90"/>
<line x1="675.20" y1="188.50" x2="675.20" y2="192.50" stroke="#000" stroke-width="0.90"/>
<line x1="72.60" y1="347.30" x2="72.60" y2="351.30" stroke="#000" stroke-width="0.90"/>
<line x1="98.80" y1="347.30" x2="98.80" y2="351.30" stroke="#000" stroke-width="0.90"/>
<line x1="125.00" y1="347.30" x2="125.00" y2="351.30" stroke="#000" stroke-width="0.90"/>
<line x1="151.20" y1="347.30" x2="151.20" y2="351.30" stroke="#000" stroke-width="0.90"/>
<line x1="177.40" y1="343.70" x2="177.40" y2="351.30" stroke="#000" stroke-width="1.25"/>
<line x1="203.60" y1="347.30" x2="203.60" y2="351.30" stroke="#000" stroke-width="0.90"/>
<line x1="229.80" y1="347.30" x2="229.80" y2="351.30" stroke="#000" stroke-width="0.90"/>
<line x1="256.00" y1="347.30" x2="256.00" y2="351.30" stroke="#000" stroke-width="0.90"/>
<line x1="282.20" y1="347.30" x2="282.20" y2="351.30" stroke="#000" stroke-width="0.90"/>
<line x1="308.40" y1="343.70" x2="308.40" y2="351.30" stroke="#000" stroke-width="1.25"/>
<line x1="334.60" y1="347.30" x2="334.60" y2="351.30" stroke="#000" stroke-width="0.90"/>
<line x1="360.80" y1="347.30" x2="360.80" y2="351.30" stroke="#000" stroke-width="0.90"/>
<line x1="387.00" y1="347.30" x2="387.00" y2="351.30" stroke="#000" stroke-width="0.90"/>
<line x1="413.20" y1="347.30" x2="413.20" y2="351.30" stroke="#000" stroke-width="0.90"/>
<line x1="439.40" y1="343.70" x2="439.40" y2="351.30" stroke="#000" stroke-width="1.25"/>
<line x1="465.60" y1="347.30" x2="465.60" y2="351.30" stroke="#000" stroke-width="0.90"/>
<line x1="491.80" y1="347.30" x2="491.80" y2="351.30" stroke="#000" stroke-width="0.90"/>
<line x1="518.00" y1="347.30" x2="518.00" y2="351.30" stroke="#000" stroke-width="0.90"/>
<line x1="544.20" y1="347.30" x2="544.20" y2="351.30" stroke="#000" stroke-width="0.90"/>
<line x1="570.40" y1="343.70" x2="570.40" y2="351.30" stroke="#000" stroke-width="1.25"/>
<line x1="596.60" y1="347.30" x2="596.60" y2="351.30" stroke="#000" stroke-width="0.90"/>
<line x1="622.80" y1="347.30" x2="622.80" y2="351.30" stroke="#000" stroke-width="0.90"/>
<line x1="649.00" y1="347.30" x2="649.00" y2="351.30" stroke="#000" stroke-width="0.90"/>
<line x1="675.20" y1="347.30" x2="675.20" y2="351.30" stroke="#000" stroke-width="0.90"/>
<line x1="72.60" y1="506.30" x2="72.60" y2="510.30" stroke="#000" stroke-width="0.90"/>
<line x1="98.80" y1="506.30" x2="98.80" y2="510.30" stroke="#000" stroke-width="0.90"/>
<line x1="125.00" y1="506.30" x2="125.00" y2="510.30" stroke="#000" stroke-width="0.90"/>
<line x1="151.20" y1="506.30" x2="151.20" y2="510.30" stroke="#000" stroke-width="0.90"/>
<line x1="177.40" y1="502.70" x2="177.40" y2="510.30" stroke="#000" stroke-width="1.25"/>
<line x1="203.60" y1="506.30" x2="203.60" y2="510.30" stroke="#000" stroke-width="0.90"/>
<line x1="229.80" y1="506.30" x2="229.80" y2="510.30" stroke="#000" stroke-width="0.90"/>
<line x1="256.00" y1="506.30" x2="256.00" y2="510.30" stroke="#000" stroke-width="0.90"/>
<line x1="282.20" y1="506.30" x2="282.20" y2="510.30" stroke="#000" stroke-width="0.90"/>
<line x1="308.40" y1="502.70" x2="308.40" y2="510.30" stroke="#000" stroke-width="1.25"/>
<line x1="334.60" y1="506.30" x2="334.60" y2="510.30" stroke="#000" stroke-width="0.90"/>
<line x1="360.80" y1="506.30" x2="360.80" y2="510.30" stroke="#000" stroke-width="0.90"/>
<line x1="387.00" y1="506.30" x2="387.00" y2="510.30" stroke="#000" stroke-width="0.90"/>
<line x1="413.20" y1="506.30" x2="413.20" y2="510.30" stroke="#000" stroke-width="0.90"/>
<line x1="439.40" y1="502.70" x2="439.40" y2="510.30" stroke="#000" stroke-width="1.25"/>
<line x1="465.60" y1="506.30" x2="465.60" y2="510.30" stroke="#000" stroke-width="0.90"/>
<line x1="491.80" y1="506.30" x2="491.80" y2="510.30" stroke="#000" stroke-width="0.90"/>
<line x1="518.00" y1="506.30" x2="518.00" y2="510.30" stroke="#000" stroke-width="0.90"/>
<line x1="544.20" y1="506.30" x2="544.20" y2="510.30" stroke="#000" stroke-width="0.90"/>
<line x1="570.40" y1="502.70" x2="570.40" y2="510.30" stroke="#000" stroke-width="1.25"/>
<line x1="596.60" y1="506.30" x2="596.60" y2="510.30" stroke="#000" stroke-width="0.90"/>
<line x1="622.80" y1="506.30" x2="622.80" y2="510.30" stroke="#000" stroke-width="0.90"/>
<line x1="649.00" y1="506.30" x2="649.00" y2="510.30" stroke="#000" stroke-width="0.90"/>
<line x1="675.20" y1="506.30" x2="675.20" y2="510.30" stroke="#000" stroke-width="0.90"/>
<line x1="72.60" y1="665.40" x2="72.60" y2="669.40" stroke="#000" stroke-width="0.90"/>
<line x1="98.80" y1="665.40" x2="98.80" y2="669.40" stroke="#000" stroke-width="0.90"/>
<line x1="125.00" y1="665.40" x2="125.00" y2="669.40" stroke="#000" stroke-width="0.90"/>
<line x1="151.20" y1="665.40" x2="151.20" y2="669.40" stroke="#000" stroke-width="0.90"/>
<line x1="177.40" y1="661.80" x2="177.40" y2="669.40" stroke="#000" stroke-width="1.25"/>
<line x1="203.60" y1="665.40" x2="203.60" y2="669.40" stroke="#000" stroke-width="0.90"/>
<line x1="229.80" y1="665.40" x2="229.80" y2="669.40" stroke="#000" stroke-width="0.90"/>
<line x1="256.00" y1="665.40" x2="256.00" y2="669.40" stroke="#000" stroke-width="0.90"/>
<line x1="282.20" y1="665.40" x2="282.20" y2="669.40" stroke="#000" stroke-width="0.90"/>
<line x1="308.40" y1="661.80" x2="308.40" y2="669.40" stroke="#000" stroke-width="1.25"/>
<line x1="334.60" y1="665.40" x2="334.60" y2="669.40" stroke="#000" stroke-width="0.90"/>
<line x1="360.80" y1="665.40" x2="360.80" y2="669.40" stroke="#000" stroke-width="0.90"/>
<line x1="387.00" y1="665.40" x2="387.00" y2="669.40" stroke="#000" stroke-width="0.90"/>
<line x1="413.20" y1="665.40" x2="413.20" y2="669.40" stroke="#000" stroke-width="0.90"/>
<line x1="439.40" y1="661.80" x2="439.40" y2="669.40" stroke="#000" stroke-width="1.25"/>
<line x1="465.60" y1="665.40" x2="465.60" y2="669.40" stroke="#000" stroke-width="0.90"/>
<line x1="491.80" y1="665.40" x2="491.80" y2="669.40" stroke="#000" stroke-width="0.90"/>
<line x1="518.00" y1="665.40" x2="518.00" y2="669.40" stroke="#000" stroke-width="0.90"/>
<line x1="544.20" y1="665.40" x2="544.20" y2="669.40" stroke="#000" stroke-width="0.90"/>
<line x1="570.40" y1="661.80" x2="570.40" y2="669.40" stroke="#000" stroke-width="1.25"/>
<line x1="596.60" y1="665.40" x2="596.60" y2="669.40" stroke="#000" stroke-width="0.90"/>
<line x1="622.80" y1="665.40" x2="622.80" y2="669.40" stroke="#000" stroke-width="0.90"/>
<line x1="649.00" y1="665.40" x2="649.00" y2="669.40" stroke="#000" stroke-width="0.90"/>
<line x1="675.20" y1="665.40" x2="675.20" y2="669.40" stroke="#000" stroke-width="0.90"/>
<line x1="127.60" y1="33.70" x2="127.60" y2="41.30" stroke="#000" stroke-width="1.25"/>
<line x1="160.70" y1="33.70" x2="160.70" y2="41.30" stroke="#000" stroke-width="1.25"/>
<line x1="202.50" y1="33.70" x2="202.50" y2="41.30" stroke="#000" stroke-width="1.25"/>
<line x1="257.50" y1="33.70" x2="257.50" y2="41.30" stroke="#000" stroke-width="1.25"/>
<line x1="334.60" y1="33.70" x2="334.60" y2="41.30" stroke="#000" stroke-width="1.25"/>
<line x1="451.30" y1="33.70" x2="451.30" y2="41.30" stroke="#000" stroke-width="1.25"/>
<line x1="658.90" y1="33.70" x2="658.90" y2="41.30" stroke="#000" stroke-width="1.25"/>
<line x1="45.55" y1="33.70" x2="702.35" y2="33.70" stroke="#000" stroke-width="1.70"/>
<line x1="45.55" y1="192.50" x2="702.35" y2="192.50" stroke="#000" stroke-width="1.70"/>
<line x1="45.55" y1="351.30" x2="702.35" y2="351.30" stroke="#000" stroke-width="1.70"/>
<line x1="45.55" y1="510.30" x2="702.35" y2="510.30" stroke="#000" stroke-width="1.70"/>
<line x1="45.55" y1="669.40" x2="702.35" y2="669.40" stroke="#000" stroke-width="1.70"/>
<line x1="46.40" y1="33.70" x2="46.40" y2="669.40" stroke="#000" stroke-width="1.70"/>
<line x1="701.50" y1="33.70" x2="701.50" y2="669.40" stroke="#000" stroke-width="1.70"/>
<rect x="424" y="39" width="273.2" height="39.2" fill="#ffffff" fill-opacity="0.72"/>
<g stroke="#377eb8" stroke-width="1.50" fill="none"><line x1="435.90" y1="41.00" x2="435.90" y2="49.20"/><line x1="432.10" y1="41.00" x2="439.70" y2="41.00"/><line x1="432.10" y1="49.20" x2="439.70" y2="49.20"/></g><rect x="433.40" y="42.60" width="5.00" height="5.00" fill="#377eb8"/>
<text x="452.9" y="48.10" font-size="9.1">Walther+18 (HIRES/UVES) + BOSS</text>
<g stroke="#4daf4a" stroke-width="1.50" fill="none"><line x1="435.90" y1="53.80" x2="435.90" y2="62.00"/><line x1="432.10" y1="53.80" x2="439.70" y2="53.80"/><line x1="432.10" y1="62.00" x2="439.70" y2="62.00"/></g><rect x="433.40" y="55.40" width="5.00" height="5.00" fill="#4daf4a"/>
<text x="452.9" y="60.90" font-size="9.1">Walther+18 (HIRES/UVES)</text>
<g stroke="#984ea3" stroke-width="1.50" fill="none"><line x1="435.90" y1="66.20" x2="435.90" y2="74.40"/><line x1="432.10" y1="66.20" x2="439.70" y2="66.20"/><line x1="432.10" y1="74.40" x2="439.70" y2="74.40"/></g><rect x="433.40" y="67.80" width="5.00" height="5.00" fill="#984ea3"/>
<text x="452.9" y="73.30" font-size="9.1">BOSS + XQ-100 + Viel+2013</text>
<g stroke="#a65628" stroke-width="1.50" fill="none"><line x1="615.20" y1="41.00" x2="615.20" y2="49.20"/><line x1="611.40" y1="41.00" x2="619.00" y2="41.00"/><line x1="611.40" y1="49.20" x2="619.00" y2="49.20"/></g><rect x="612.70" y="42.60" width="5.00" height="5.00" fill="#a65628"/>
<text x="631.8" y="48.10" font-size="9.1">BOSS + XQ-100</text>
<g stroke="#ff7f00" stroke-width="1.50" fill="none"><line x1="615.20" y1="53.80" x2="615.20" y2="62.00"/><line x1="611.40" y1="53.80" x2="619.00" y2="53.80"/><line x1="611.40" y1="62.00" x2="619.00" y2="62.00"/></g><rect x="612.70" y="55.40" width="5.00" height="5.00" fill="#ff7f00"/>
<text x="631.8" y="60.90" font-size="9.1">Viel+2013</text>
<rect x="601.7" y="515.7" width="94.9" height="27.2" fill="#ffffff" fill-opacity="0.72"/>
<line x1="604.9" y1="521.8" x2="622.5" y2="521.8" stroke="#6e6e6e" stroke-width="1.8" stroke-dasharray="6.6 3.6"/>
<rect x="605" y="531.2" width="18.2" height="6.7" fill="#daa0a3"/>
<text x="630.5" y="524.9" font-size="9.1">fit by Oñorbe+17</text>
<text x="630.5" y="537.6" font-size="9.1">Becker+13</text>
<g stroke="#000" stroke-width="0.00">
<text transform="translate(39.6,174.61) scale(1,1.060)" text-anchor="end" font-size="13">60</text>
<text transform="translate(39.6,140.59) scale(1,1.060)" text-anchor="end" font-size="13">90</text>
<text transform="translate(39.6,106.56) scale(1,1.060)" text-anchor="end" font-size="13">120</text>
<text transform="translate(39.6,72.53) scale(1,1.060)" text-anchor="end" font-size="13">150</text>
<text transform="translate(39.6,323.02) scale(1,1.060)" text-anchor="end" font-size="13">0.5</text>
<text transform="translate(39.6,289.93) scale(1,1.060)" text-anchor="end" font-size="13">1.0</text>
<text transform="translate(39.6,256.85) scale(1,1.060)" text-anchor="end" font-size="13">1.5</text>
<text transform="translate(39.6,223.77) scale(1,1.060)" text-anchor="end" font-size="13">2.0</text>
<text transform="translate(39.6,497.50) scale(1,1.060)" text-anchor="end" font-size="13">0.8</text>
<text transform="translate(39.6,462.20) scale(1,1.060)" text-anchor="end" font-size="13">1.2</text>
<text transform="translate(39.6,426.90) scale(1,1.060)" text-anchor="end" font-size="13">1.6</text>
<text transform="translate(39.6,391.60) scale(1,1.060)" text-anchor="end" font-size="13">2.0</text>
<text transform="translate(39.6,642.52) scale(1,1.060)" text-anchor="end" font-size="13">0.2</text>
<text transform="translate(39.6,610.74) scale(1,1.060)" text-anchor="end" font-size="13">0.4</text>
<text transform="translate(39.6,578.96) scale(1,1.060)" text-anchor="end" font-size="13">0.6</text>
<text transform="translate(39.6,547.18) scale(1,1.060)" text-anchor="end" font-size="13">0.8</text>
<text transform="translate(46.40,685.8) scale(1,1.060)" text-anchor="middle" font-size="13">1</text>
<text transform="translate(177.40,685.8) scale(1,1.060)" text-anchor="middle" font-size="13">2</text>
<text transform="translate(308.40,685.8) scale(1,1.060)" text-anchor="middle" font-size="13">3</text>
<text transform="translate(439.40,685.8) scale(1,1.060)" text-anchor="middle" font-size="13">4</text>
<text transform="translate(570.40,685.8) scale(1,1.060)" text-anchor="middle" font-size="13">5</text>
<text transform="translate(701.40,685.8) scale(1,1.060)" text-anchor="middle" font-size="13">6</text>
<text transform="translate(127.60,24.0) scale(1,1.060)" text-anchor="middle" font-size="13">4.0</text>
<text transform="translate(160.70,24.0) scale(1,1.060)" text-anchor="middle" font-size="13">3.5</text>
<text transform="translate(202.50,24.0) scale(1,1.060)" text-anchor="middle" font-size="13">3.0</text>
<text transform="translate(257.50,24.0) scale(1,1.060)" text-anchor="middle" font-size="13">2.5</text>
<text transform="translate(334.60,24.0) scale(1,1.060)" text-anchor="middle" font-size="13">2.0</text>
<text transform="translate(451.30,24.0) scale(1,1.060)" text-anchor="middle" font-size="13">1.5</text>
<text transform="translate(658.90,24.0) scale(1,1.060)" text-anchor="middle" font-size="13">1.0</text>
<text transform="translate(373.6,10.0) scale(1,1.06)" text-anchor="middle" font-size="14.2">Age of the universe [Gyr]</text>
<text x="374" y="703.2" text-anchor="middle" font-size="14" font-style="italic">z</text>
<text transform="translate(11.2,113.6) rotate(-90)" text-anchor="middle" font-size="14.9">λ<tspan font-size="10" dy="2.6">P</tspan><tspan dy="-2.6">[ckpc]</tspan></text>
<text transform="translate(13.6,273.0) rotate(-90)" text-anchor="middle" font-size="14.8">T<tspan font-size="10" dy="2.6">0</tspan><tspan dy="-2.6">[10</tspan><tspan font-size="10" dy="-5.2">4</tspan><tspan dy="5.2">K]</tspan></text>
<text transform="translate(13.6,432.3) rotate(-90)" text-anchor="middle" font-size="14" font-style="italic">γ</text>
<text transform="translate(11.8,591.2) rotate(-90)" text-anchor="middle" font-size="14">F̄<tspan font-size="9.8" dy="2.8" letter-spacing="0.3">Lyα</tspan></text>
</g>
</svg></body></html>
